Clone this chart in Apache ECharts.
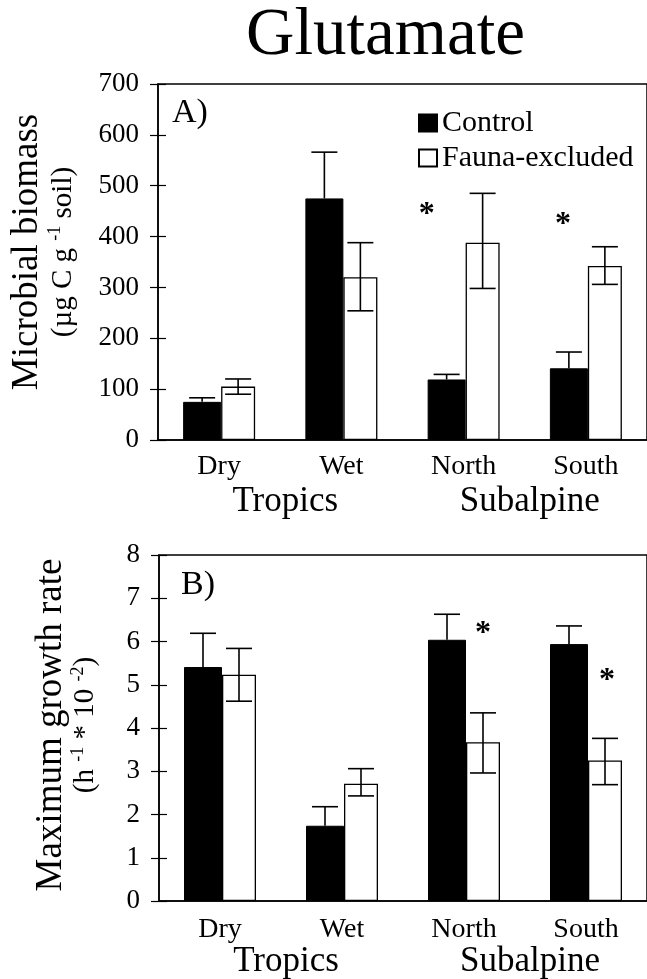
<!DOCTYPE html>
<html>
<head>
<meta charset="utf-8">
<script src="https://cdn.jsdelivr.net/npm/echarts@6/dist/echarts.min.js"></script>
<style>
  html, body { margin: 0; padding: 0; background: #fff; }
  #chart { width: 647px; height: 979px; }
</style>
</head>
<body>
<div id="chart"></div>
<script>
// ---------- data ----------
const categories = ['Dry', 'Wet', 'North', 'South'];
const regions = ['Tropics', 'Subalpine'];
const seriesNames = ['Control', 'Fauna-excluded'];

// Panel A: microbial biomass (µg C g-1 soil)
const biomassTicks = [0, 100, 200, 300, 400, 500, 600, 700];
const biomassControl = [75, 475, 119, 141];
const biomassControlHi = [83, 566, 129, 173];
const biomassFauna = [105, 320, 388, 342];
const biomassFaunaHi = [120, 388, 485, 380];
const biomassFaunaLo = [90, 254, 298, 306];
const biomassStars = [['North', 452], ['South', 433]];

// Panel B: maximum growth rate (h-1 * 10-2)
const growthTicks = [0, 1, 2, 3, 4, 5, 6, 7, 8];
const growthControl = [5.41, 1.74, 6.04, 5.94];
const growthControlHi = [6.19, 2.18, 6.63, 6.36];
const growthFauna = [5.23, 2.71, 3.67, 3.25];
const growthFaunaHi = [5.84, 3.06, 4.35, 3.76];
const growthFaunaLo = [4.62, 2.43, 2.96, 2.69];
const growthStars = [['North', 6.30], ['South', 5.21]];

// ---------- style ----------
const FONT = "'Liberation Serif', 'DejaVu Serif', serif";
const W_CTRL = 38, W_FAUNA = 34;
const DX_CTRL = -(W_CTRL + W_FAUNA) / 2 + W_CTRL / 2;
const DX_FAUNA = -(W_CTRL + W_FAUNA) / 2 + W_CTRL + W_FAUNA / 2;
const CAP = 26;

function errSeries(name, xi, yi, lo, hi, dx, lowerCap) {
  return {
    name: name, type: 'custom', xAxisIndex: xi, yAxisIndex: yi, z: 5,
    data: categories.map((c, i) => [i, lo[i], hi[i]]),
    renderItem: function (params, api) {
      const x = api.coord([api.value(0), 0])[0] + dx;
      const yLo = api.coord([api.value(0), api.value(1)])[1];
      const yHi = api.coord([api.value(0), api.value(2)])[1];
      const st = { stroke: '#000', lineWidth: 1.6 };
      const ch = [
        { type: 'line', shape: { x1: x, y1: yLo, x2: x, y2: yHi }, style: st },
        { type: 'line', shape: { x1: x - CAP / 2, y1: yHi, x2: x + CAP / 2, y2: yHi }, style: st }
      ];
      if (lowerCap) ch.push({ type: 'line', shape: { x1: x - CAP / 2, y1: yLo, x2: x + CAP / 2, y2: yLo }, style: st });
      return { type: 'group', children: ch };
    }
  };
}

function starSeries(name, xi, yi, pts, offsets) {
  return {
    name: name, type: 'scatter', xAxisIndex: xi, yAxisIndex: yi, z: 6,
    symbol: 'circle', symbolSize: 0.01, itemStyle: { color: '#000', opacity: 1 },
    data: pts.map((p, i) => ({
      value: p,
      label: { offset: offsets[i] }
    })),
    label: {
      show: true, position: 'inside', formatter: '*',
      fontSize: 32, fontWeight: 'bold', color: '#000', fontFamily: FONT,
      textBorderWidth: 0, opacity: 1
    },
    emphasis: { disabled: true }
  };
}

function catAxis(gi, margin) {
  return {
    type: 'category', gridIndex: gi, data: categories, position: 'bottom',
    axisLine: { show: true, lineStyle: { color: '#000', width: 1.5 } },
    axisTick: { show: false },
    axisLabel: { color: '#000', fontSize: 28, fontFamily: FONT, margin: margin }
  };
}
function regionAxis(gi, margin) {
  return {
    type: 'category', gridIndex: gi, data: regions, position: 'bottom',
    axisLine: { show: false }, axisTick: { show: false },
    axisLabel: { color: '#000', fontSize: 35, fontFamily: FONT, margin: margin, padding: [0, 0, 0, 10] }
  };
}
function valAxis(gi, ticks, name, rich, gap, pad) {
  return {
    type: 'value', gridIndex: gi, position: 'left',
    min: ticks[0], max: ticks[ticks.length - 1], interval: ticks[1] - ticks[0],
    axisLine: { show: true, lineStyle: { color: '#000', width: 1.5 } },
    axisTick: { show: true, length: 8, lineStyle: { color: '#000', width: 1.2 } },
    axisLabel: { color: '#000', fontSize: 27, fontFamily: FONT, margin: 19 },
    splitLine: { show: false },
    name: name, nameLocation: 'middle', nameRotate: 90, nameGap: gap,
    nameTextStyle: { fontFamily: FONT, color: '#000', rich: rich, padding: pad, align: 'center' }
  };
}
function innerTickAxis(gi, ticks) {
  return {
    type: 'value', gridIndex: gi, position: 'left',
    min: ticks[0], max: ticks[ticks.length - 1], interval: ticks[1] - ticks[0],
    axisLine: { show: false },
    axisTick: { show: true, inside: true, length: 8, lineStyle: { color: '#000', width: 1.2 } },
    axisLabel: { show: false }, splitLine: { show: false }
  };
}

const richA = {
  m: { fontSize: 37, lineHeight: 38, fontFamily: FONT, color: '#000' },
  s: { fontSize: 29, lineHeight: 34, fontFamily: FONT, color: '#000' },
  sup: { fontSize: 18, lineHeight: 20, fontFamily: FONT, color: '#000', verticalAlign: 'top' }
};
const richB = {
  m: { fontSize: 37, lineHeight: 36, fontFamily: FONT, color: '#000' },
  s: { fontSize: 29, lineHeight: 32, fontFamily: FONT, color: '#000' },
  sup: { fontSize: 18, lineHeight: 20, fontFamily: FONT, color: '#000', verticalAlign: 'top' }
};

const ctrlStyle = { color: '#000', borderColor: '#000', borderWidth: 1 };
const faunaStyle = { color: '#fff', borderColor: '#000', borderWidth: 1.3 };

const option = {
  backgroundColor: '#fff',
  animation: false,
  title: {
    text: 'Glutamate', left: 246, top: 3, padding: 0,
    textStyle: { fontSize: 67, fontWeight: 'normal', color: '#000', fontFamily: FONT }
  },
  legend: {
    data: seriesNames, orient: 'vertical', left: 418, top: 108, padding: 0,
    icon: 'rect', itemWidth: 18, itemHeight: 17, itemGap: 5,
    textStyle: { fontSize: 30, lineHeight: 30, color: '#000', fontFamily: FONT },
    selectedMode: false
  },
  grid: [
    { left: 158, top: 84, width: 502.4, height: 356, show: true, borderColor: '#000', borderWidth: 1.5, backgroundColor: 'transparent' },
    { left: 159, top: 555, width: 492.4, height: 346, show: true, borderColor: '#000', borderWidth: 1.5, backgroundColor: 'transparent' }
  ],
  xAxis: [catAxis(0, 13), regionAxis(0, 44), catAxis(1, 15), regionAxis(1, 43)],
  yAxis: [
    valAxis(0, biomassTicks, '{m|Microbial biomass}\n{s|(µg C g }{sup|-1}{s| soil)}', richA, 78, [0, 0, 0, 20]),
    innerTickAxis(0, biomassTicks),
    valAxis(1, growthTicks, '{m|Maximum growth rate}\n{s|(h }{sup|-1}{s| * 10 }{sup|-2}{s|)}', richB, 58, [0, 0, 0, 6]),
    innerTickAxis(1, growthTicks)
  ],
  graphic: [
    { type: 'text', left: 172, top: 96, style: { text: 'A)', font: '34px ' + FONT, fill: '#000' } },
    { type: 'text', left: 181, top: 568, style: { text: 'B)', font: '34px ' + FONT, fill: '#000' } }
  ],
  series: [
    { name: 'Control', type: 'bar', xAxisIndex: 0, yAxisIndex: 0, data: biomassControl, barWidth: W_CTRL, barGap: '0%', itemStyle: ctrlStyle },
    { name: 'Fauna-excluded', type: 'bar', xAxisIndex: 0, yAxisIndex: 0, data: biomassFauna, barWidth: W_FAUNA, barGap: '0%', itemStyle: faunaStyle },
    errSeries('errA-control', 0, 0, biomassControl, biomassControlHi, DX_CTRL, false),
    errSeries('errA-fauna', 0, 0, biomassFaunaLo, biomassFaunaHi, DX_FAUNA, true),
    starSeries('sigA', 0, 0, biomassStars, [[-37, 5], [-23, 5]]),

    { name: 'Control', type: 'bar', xAxisIndex: 2, yAxisIndex: 2, data: growthControl, barWidth: W_CTRL, barGap: '0%', itemStyle: ctrlStyle },
    { name: 'Fauna-excluded', type: 'bar', xAxisIndex: 2, yAxisIndex: 2, data: growthFauna, barWidth: W_FAUNA, barGap: '0%', itemStyle: faunaStyle },
    errSeries('errB-control', 2, 2, growthControl, growthControlHi, DX_CTRL, false),
    errSeries('errB-fauna', 2, 2, growthFaunaLo, growthFaunaHi, DX_FAUNA, true),
    starSeries('sigB', 2, 2, growthStars, [[19, 5], [21, 5]])
  ]
};

const chart = echarts.init(document.getElementById('chart'), null, { renderer: 'canvas' });
chart.setOption(option);
</script>
</body>
</html>
